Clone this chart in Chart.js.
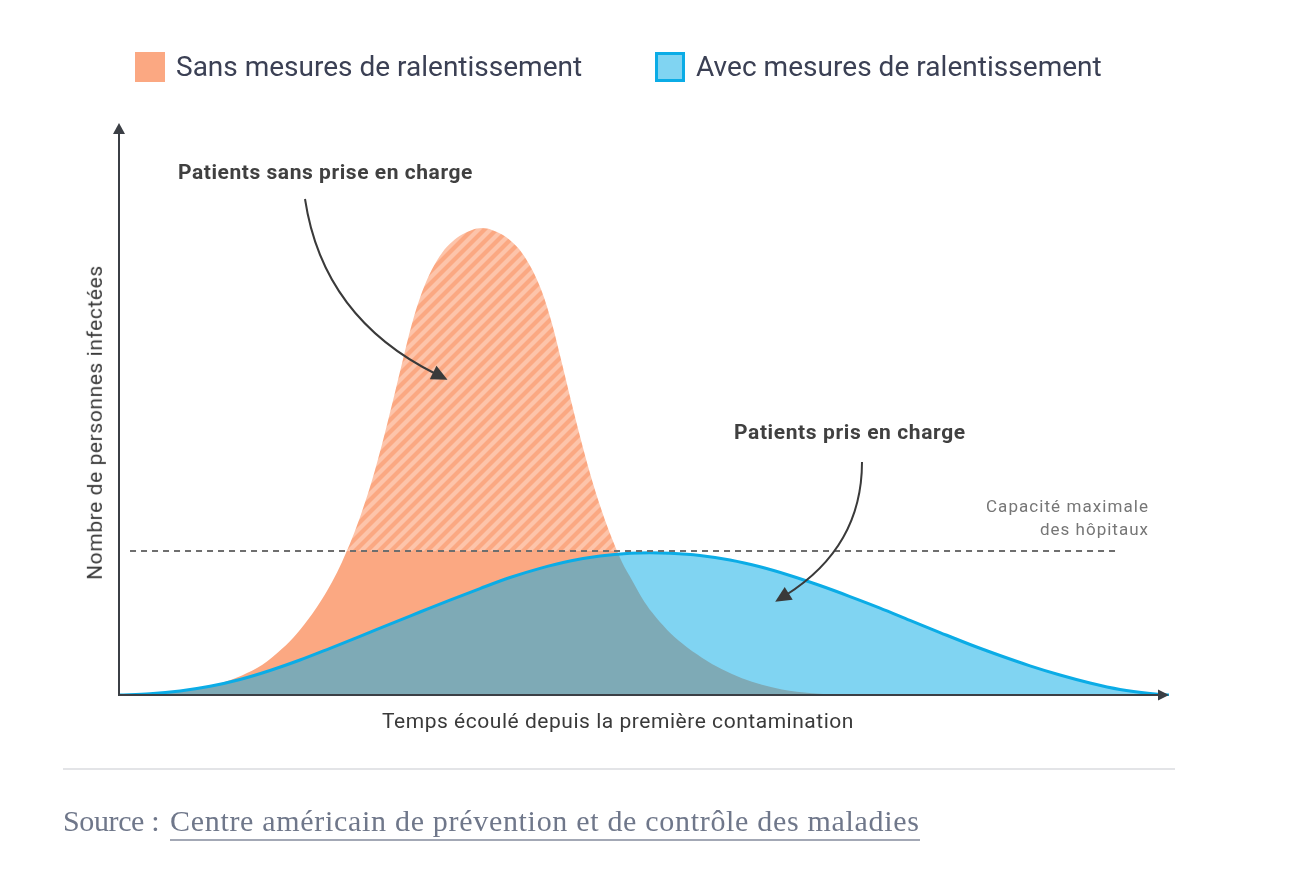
<!DOCTYPE html>
<html><head><meta charset="utf-8">
<script src="https://cdn.jsdelivr.net/npm/chart.js@4.4.1/dist/chart.umd.min.js"></script>
<style>
html,body{margin:0;padding:0;background:#fff;}
#wrap{position:relative;width:1294px;height:874px;overflow:hidden;font-family:Roboto,"Noto Sans",sans-serif;}
#c{position:absolute;left:0;top:0;}
.t{position:absolute;white-space:nowrap;line-height:1;}
.box{position:absolute;width:30px;height:30px;box-sizing:border-box;}
</style></head><body>
<div id="wrap">
<canvas id="c" width="1294" height="874"></canvas>
<div id="legend"></div>
<div class="t" id="ann1" style="font-size:21px;font-weight:700;color:#404040;">Patients sans prise en charge</div>
<div class="t" id="ann2" style="font-size:21px;font-weight:700;color:#404040;">Patients pris en charge</div>
<div class="t" id="cap1" style="font-size:17px;color:#767676;">Capacité maximale</div>
<div class="t" id="cap2" style="font-size:17px;color:#767676;">des hôpitaux</div>
<div class="t" id="ytitle" style="font-size:21px;color:#3a3a3a;">Nombre de personnes infectées</div>
<div class="t" id="xtitle" style="font-size:21px;color:#3a3a3a;">Temps écoulé depuis la première contamination</div>
<div style="position:absolute;left:63px;top:768px;width:1112px;height:2px;background:#e3e4e7;"></div>
<div class="t" id="src1" style="font-family:'Liberation Serif','DejaVu Serif',serif;font-size:30px;color:#6f778a;">Source :</div>
<div class="t" id="src2" style="font-family:'Liberation Serif','DejaVu Serif',serif;font-size:30px;color:#6f778a;">Centre américain de prévention et de contrôle des maladies</div>
<div id="srcline" style="position:absolute;left:170px;top:839px;width:750px;height:2px;background:#a3a8b5;"></div>
</div>
<script>
// ---- data (time units 0..100, infected units 0..~100) ----
const tempsSans = [0, 3.14, 6.0, 7.9, 9.81, 11.71, 13.62, 15.52, 16.95, 18.38, 19.33, 20.29, 21.24, 22.19, 23.14, 24.1, 25.05, 26.0, 26.95, 27.9, 28.86, 29.81, 30.76, 31.71, 32.67, 33.62, 34.57,
  35.52, 36.48, 37.43, 38.38, 39.33, 40.29, 41.24, 42.19, 43.14, 44.1, 45.05, 46.0, 46.95, 47.9, 48.86, 49.81, 50.76, 52.19, 53.62, 55.52, 57.43, 59.33, 61.24, 63.14, 66.0, 68.86];
const sansMesures = [0, 0.25, 0.74, 1.32, 2.14, 3.46, 5.27, 8.15, 10.87, 14.25, 16.88, 19.93, 23.47, 27.59, 32.37, 37.89, 44.23, 51.23, 58.48, 65.48, 71.08, 75.11, 77.99, 79.89, 81.21, 82.03, 82.36,
  82.03, 81.21, 79.89, 77.99, 75.11, 71.08, 65.48, 58.48, 51.23, 44.23, 37.89, 32.37, 27.59, 23.47, 20.26, 17.13, 14.58, 11.53, 9.14, 6.59, 4.53, 2.96, 1.81, 0.99, 0.33, 0];
const tempsAvec = [0, 2.95, 5.81, 8.67, 11.52, 14.38, 17.24, 20.1, 22.95, 25.81, 28.67, 31.52, 34.38, 37.24, 40.1, 42.95, 45.81, 48.67, 50.57, 52.48, 55.33, 58.19, 61.05, 63.9, 66.76, 69.62, 72.48, 75.33, 78.19, 81.05, 83.9, 86.76, 89.62, 92.48, 95.33, 98.19, 100, 100.6];
const avecMesures = [0, 0.21, 0.71, 1.53, 2.73, 4.32, 6.17, 8.24, 10.35, 12.52, 14.64, 16.75, 18.78, 20.72, 22.34, 23.63, 24.51, 24.99, 25.08, 24.99, 24.6, 23.81, 22.61, 21.08, 19.31, 17.37, 15.34, 13.17, 11.02, 8.91, 6.97, 5.15, 3.53, 2.12, 0.97, 0.26, 0, 0];
const capacite = 25.4;
const capaciteDebut = 1.05, capaciteFin = 94.9;
const labels = ["Sans mesures de ralentissement", "Avec mesures de ralentissement"];

const ORANGE = '#fba882', ORANGE_LIGHT = '#fdc4aa';
const BLUE = 'rgb(11,172,230)', BLUE_FILL = 'rgba(11,172,230,0.52)', BLUE_LEGEND = '#80d4f2';
const AXIS = '#3b3f45';

const pts = (xs, ys) => xs.map((x, i) => ({x, y: ys[i]}));

let patternCache = null;
function orangeFill(ctx){
  const chart = ctx.chart;
  if (!chart.chartArea || !chart.scales.y) return ORANGE;
  if (patternCache) return patternCache;
  const w = chart.width, h = chart.height;
  const capY = chart.scales.y.getPixelForValue(capacite);
  const off = document.createElement('canvas');
  off.width = w; off.height = h;
  const g = off.getContext('2d');
  g.fillStyle = ORANGE; g.fillRect(0, 0, w, h);
  g.save();
  g.beginPath(); g.rect(0, 0, w, capY); g.clip();
  g.strokeStyle = ORANGE_LIGHT; g.lineWidth = 4.2;
  for (let c = 0; c < w + h; c += 12){
    g.beginPath(); g.moveTo(c, 0); g.lineTo(c - h, h); g.stroke();
  }
  g.restore();
  patternCache = chart.ctx.createPattern(off, 'no-repeat');
  return patternCache;
}

function arrow(ctx, p0, p1, p2){
  ctx.beginPath(); ctx.moveTo(p0[0], p0[1]); ctx.quadraticCurveTo(p1[0], p1[1], p2[0], p2[1]); ctx.stroke();
  let dx = p2[0]-p1[0], dy = p2[1]-p1[1]; const L = Math.hypot(dx, dy); dx/=L; dy/=L;
  const len = 16, hw = 7.5;
  const tip = [p2[0]+dx*len*0.8, p2[1]+dy*len*0.8];
  const base = [p2[0]-dx*len*0.2, p2[1]-dy*len*0.2];
  ctx.beginPath();
  ctx.moveTo(tip[0], tip[1]);
  ctx.lineTo(base[0]-dy*hw, base[1]+dx*hw);
  ctx.lineTo(base[0]+dy*hw, base[1]-dx*hw);
  ctx.closePath(); ctx.fill();
}

const decor = {
  id: 'decor',
  afterDatasetsDraw(chart){
    const {ctx, scales: {x, y}} = chart;
    const x0 = x.getPixelForValue(0), y0 = y.getPixelForValue(0);
    const yTop = y.getPixelForValue(y.max), xEnd = x.getPixelForValue(x.max);
    ctx.save();
    ctx.strokeStyle = AXIS; ctx.fillStyle = AXIS; ctx.lineWidth = 2;
    ctx.beginPath(); ctx.moveTo(x0, y0 + 1); ctx.lineTo(x0, yTop + 6); ctx.stroke();
    ctx.beginPath(); ctx.moveTo(x0 - 1, y0); ctx.lineTo(xEnd - 6, y0); ctx.stroke();
    ctx.beginPath(); ctx.moveTo(x0, yTop); ctx.lineTo(x0 - 6, yTop + 11); ctx.lineTo(x0 + 6, yTop + 11); ctx.closePath(); ctx.fill();
    ctx.beginPath(); ctx.moveTo(xEnd, y0); ctx.lineTo(xEnd - 11, y0 - 5.5); ctx.lineTo(xEnd - 11, y0 + 5.5); ctx.closePath(); ctx.fill();
    ctx.strokeStyle = '#3a3a3a'; ctx.fillStyle = '#3a3a3a'; ctx.lineWidth = 2;
    arrow(ctx, [305, 199], [323, 318], [436, 374]);
    arrow(ctx, [862, 462], [862, 547], [786, 595]);
    ctx.restore();
  }
};

new Chart(document.getElementById('c'), {
  type: 'line',
  data: {
    datasets: [
      { label: 'capacite', data: [{x: capaciteDebut, y: capacite}, {x: capaciteFin, y: capacite}],
        borderColor: '#6e6e6e', borderWidth: 2, borderDash: [6, 5], pointRadius: 0, fill: false, order: 0 },
      { label: labels[1], data: pts(tempsAvec, avecMesures), borderColor: BLUE, borderWidth: 3,
        backgroundColor: BLUE_FILL, fill: 'origin', pointRadius: 0, cubicInterpolationMode: 'monotone',
        clip: {left: 2, top: 5, right: 8, bottom: 1}, order: 1 },
      { label: labels[0], data: pts(tempsSans, sansMesures), borderWidth: 0, borderColor: 'rgba(0,0,0,0)',
        backgroundColor: orangeFill, fill: 'origin', pointRadius: 0, cubicInterpolationMode: 'monotone', order: 2 }
    ]
  },
  options: {
    responsive: false, animation: false, devicePixelRatio: 1,
    layout: { padding: { left: 119, top: 123, right: 125, bottom: 179 } },
    plugins: { legend: { display: false }, tooltip: { enabled: false } },
    scales: {
      x: { type: 'linear', min: 0, max: 100, display: false },
      y: { type: 'linear', min: 0, max: 100.9, display: false }
    }
  },
  plugins: [decor]
});

// ---- legend (from dataset labels & colours) ----
function fit(el, w){
  const m = el.offsetWidth; const n = el.textContent.length;
  el.style.letterSpacing = ((w - m) / n) + 'px';
}
const legend = document.getElementById('legend');
const legendItems = [
  {label: labels[0], box: `background:${ORANGE};`, boxX: 135, textX: 176},
  {label: labels[1], box: `background:${BLUE_LEGEND};border:3px solid ${BLUE};`, boxX: 655, textX: 696}
];
legendItems.forEach(it => {
  const b = document.createElement('div'); b.className = 'box';
  b.style.cssText += `left:${it.boxX}px;top:52px;${it.box}`;
  legend.appendChild(b);
  const t = document.createElement('div'); t.className = 't';
  t.textContent = it.label;
  t.style.cssText += `left:${it.textX}px;top:53px;font-size:28px;color:#3b4054;`;
  legend.appendChild(t);
  fit(t, 406);
});

function place(id, left, top, w){
  const el = document.getElementById(id);
  if (w) fit(el, w);
  el.style.left = left + 'px'; el.style.top = top + 'px';
  return el;
}
place('ann1', 178, 162, 295);
place('ann2', 734, 422, 232);
const c1 = document.getElementById('cap1'); fit(c1, 163); c1.style.left = (1149 - c1.offsetWidth) + 'px'; c1.style.top = '498px';
const c2 = document.getElementById('cap2'); fit(c2, 109); c2.style.left = (1149 - c2.offsetWidth) + 'px'; c2.style.top = '521px';
place('xtitle', 382, 711, 472);
const yt = document.getElementById('ytitle'); fit(yt, 315);
yt.style.left = (95 - yt.offsetWidth / 2) + 'px'; yt.style.top = (422 - 10.5) + 'px';
yt.style.transform = 'rotate(-90deg)';
place('src1', 63, 806, 96);
place('src2', 170, 806, 750);
</script>
</body></html>
